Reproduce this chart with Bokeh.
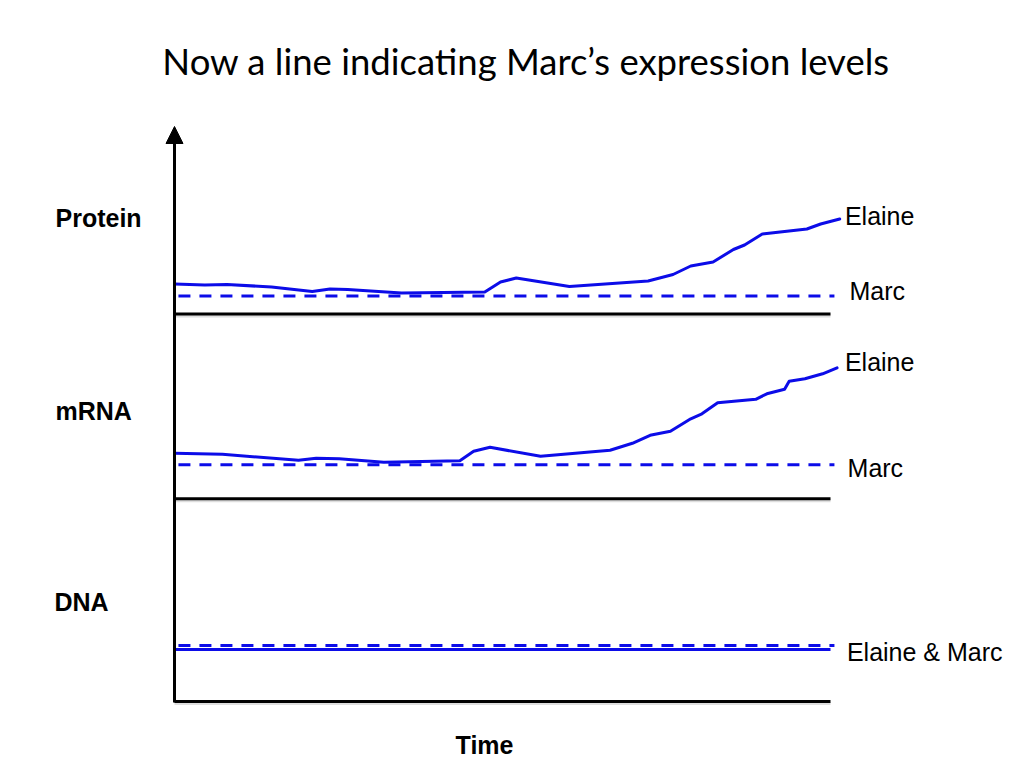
from bokeh.plotting import figure
from bokeh.models import Range1d, Label, Arrow, NormalHead
from bokeh.embed import file_html
from bokeh.resources import INLINE

# ---------------- data ----------------
title_text = "Now a line indicating Marc’s expression levels"
panel_names = ["Protein", "mRNA", "DNA"]
time_label = "Time"

# Protein panel: Elaine (solid), Marc (dashed) ; level above panel baseline
protein_elaine_t = [0, 4.6, 8.0, 14.8, 21.0, 23.7, 26.4, 34.6, 47.3, 49.7, 52.1,
                    60.2, 72.2, 76.0, 78.7, 82.1, 85.2, 86.9, 89.6, 96.4, 98.5, 101.4]
protein_elaine_level = [3.0, 2.9, 2.95, 2.7, 2.25, 2.5, 2.45, 2.1, 2.2, 3.2, 3.6,
                        2.75, 3.3, 3.95, 4.8, 5.2, 6.45, 6.9, 8.0, 8.5, 9.0, 9.5]
protein_marc_level = 1.8

# mRNA panel
mrna_elaine_t = [0, 7.3, 18.9, 21.6, 25.1, 31.9, 43.5, 45.6, 48.1, 55.8, 66.4,
                 69.8, 72.5, 75.6, 78.7, 80.4, 82.8, 88.6, 90.3, 93.0, 93.7, 96.1, 98.8, 101.0]
mrna_elaine_level = [4.55, 4.45, 3.85, 4.05, 4.0, 3.65, 3.8, 4.75, 5.15, 4.25, 4.85,
                     5.55, 6.35, 6.75, 8.0, 8.5, 9.6, 9.95, 10.5, 10.95, 11.75, 12.0, 12.5, 13.1]
mrna_marc_level = 3.4

# DNA panel
dna_elaine_level = 5.2
dna_marc_level = 5.6

time_span = [0, 100]
marc_span = [0.6, 100.6]

# ---------------- layout ----------------
W, H = 1016, 760
PX_X = 6.56     # pixels per time unit
PX_Y = 10.0     # pixels per level unit
AX_X = 174      # screen x of time 0 (within plot)
BASE_Y = 701    # screen y of DNA baseline (within plot)

x_range = Range1d(-AX_X / PX_X, (W - AX_X) / PX_X)
y_range = Range1d(-(H - BASE_Y) / PX_Y, BASE_Y / PX_Y)

baseline = {"Protein": 38.75, "mRNA": 20.27, "DNA": 0.0}

BLUE = "#0c0ce8"

p = figure(width=W, height=H, x_range=x_range, y_range=y_range,
           x_axis_type=None, y_axis_type=None, toolbar_location=None,
           output_backend="svg", min_border=0, outline_line_color=None,
           background_fill_color="white", border_fill_color="white")
p.grid.visible = False

# baselines with faint shadow
for name in panel_names:
    b = baseline[name]
    p.line(time_span, [b - 0.2, b - 0.2], line_color="#c8c8c8", line_width=3, line_alpha=0.6)
    p.line(time_span, [b, b], line_color="black", line_width=3)

# protein
bp = baseline["Protein"]
p.line(marc_span, [bp + protein_marc_level] * 2, line_color=BLUE, line_width=3, line_dash="12 9")
p.line(protein_elaine_t, [bp + v for v in protein_elaine_level], line_color=BLUE,
       line_width=3, line_join="round", line_cap="round")

# mRNA
bm = baseline["mRNA"]
p.line(marc_span, [bm + mrna_marc_level] * 2, line_color=BLUE, line_width=3, line_dash="12 9")
p.line(mrna_elaine_t, [bm + v for v in mrna_elaine_level], line_color=BLUE,
       line_width=3, line_join="round", line_cap="round")

# DNA
bd = baseline["DNA"]
p.line(time_span, [bd + dna_elaine_level] * 2, line_color=BLUE, line_width=3)
p.line(marc_span, [bd + dna_marc_level] * 2, line_color=BLUE, line_width=3, line_dash="12 9")

# vertical axis with arrow head
p.add_layout(Arrow(end=NormalHead(size=17, fill_color="black", line_color="black"),
                   x_start=0, y_start=-0.1, x_end=0, y_end=57.5,
                   line_color="black", line_width=3))

# texts
def lab(x, y, t, size, bold=False, font="Liberation Sans", align="left"):
    p.add_layout(Label(x=x, y=y, text=t, text_font=font, text_font_size=size,
                       text_font_style="bold" if bold else "normal",
                       text_align=align, text_baseline="middle", text_color="black"))

lab(53.6, 64.1, title_text, "36.5px", font="Lato", align="center")
lab(-18.14, 48.4, panel_names[0], "25px", bold=True)
lab(-18.14, 29.1, panel_names[1], "25px", bold=True)
lab(-18.3, 10.0, panel_names[2], "25px", bold=True)
lab(47.26, -4.3, time_label, "25px", bold=True, align="center")

lab(102.2, 48.6, "Elaine", "25px")
lab(102.9, 41.1, "Marc", "25px")
lab(102.2, 34.0, "Elaine", "25px")
lab(102.6, 23.4, "Marc", "25px")
lab(102.5, 5.0, "Elaine & Marc", "25px")

open("out.html", "w").write(file_html(p, INLINE))
